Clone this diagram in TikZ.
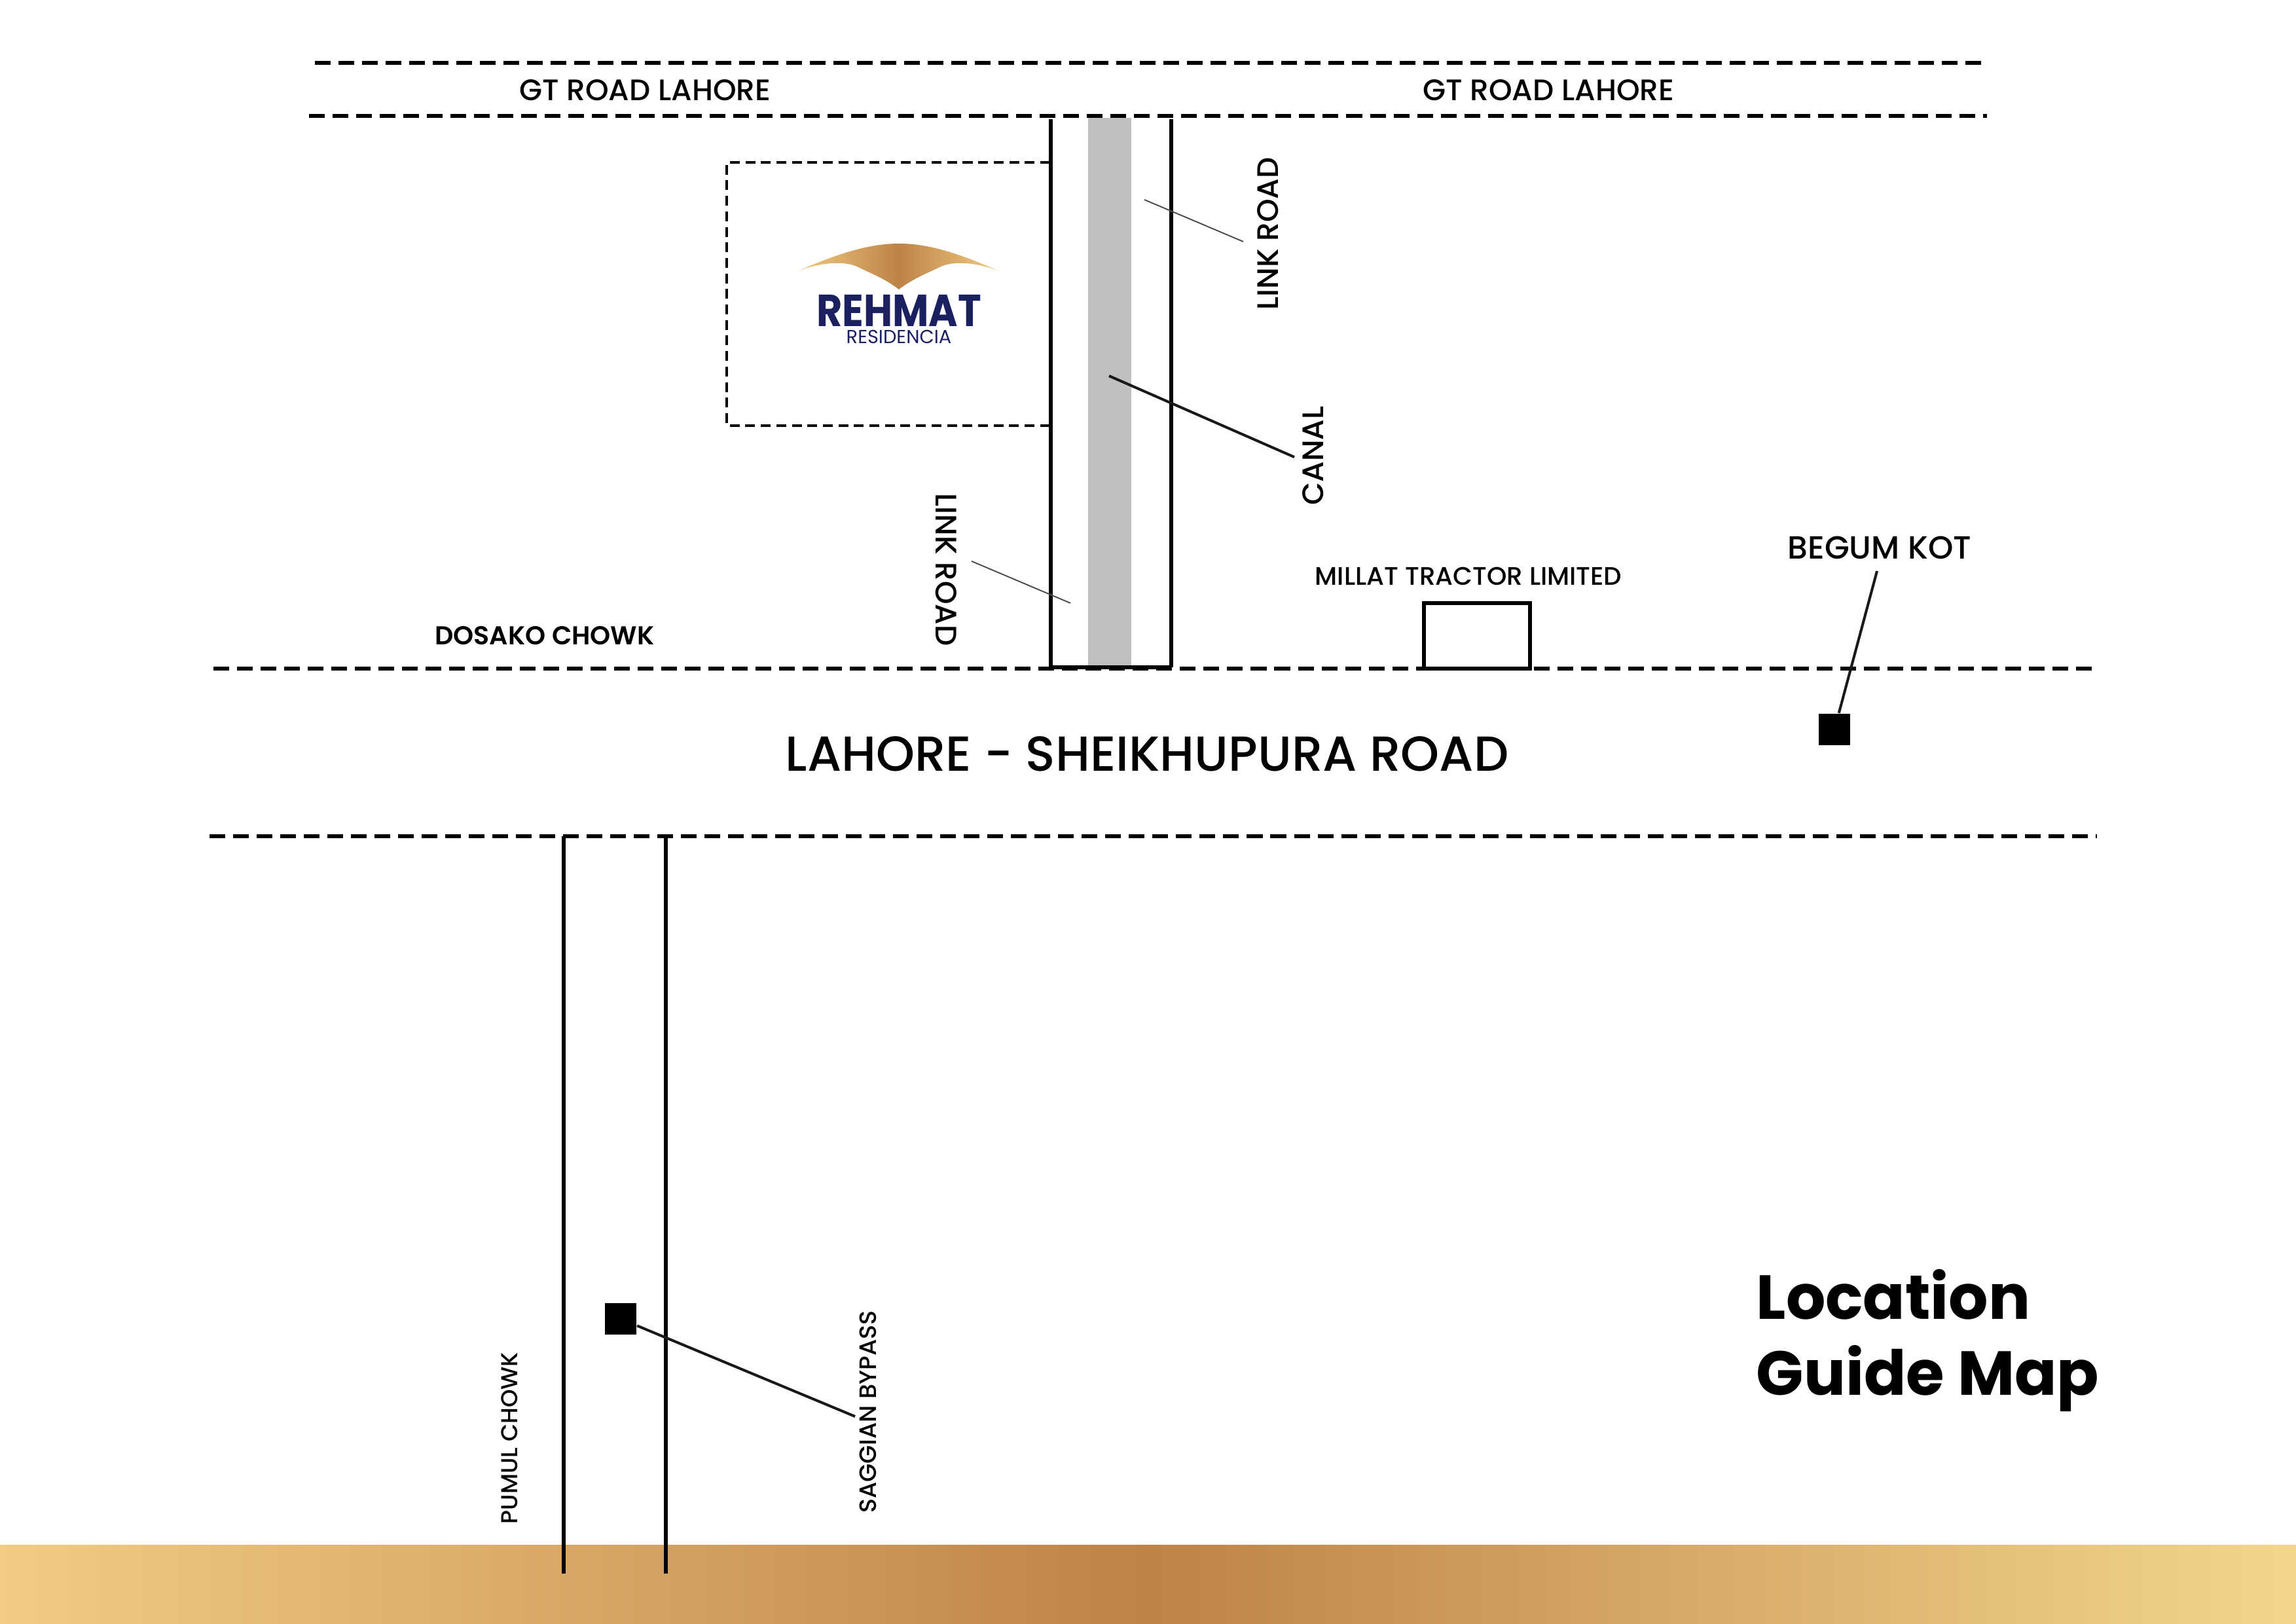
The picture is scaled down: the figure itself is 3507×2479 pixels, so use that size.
\documentclass[tikz,border=0pt]{standalone}
\usepackage{fontspec}
\setmainfont{Poppins}
\newfontfamily\medfont{Poppins Medium}
\newfontfamily\semifont{Poppins SemiBold}
\usepackage{xcolor}
\usetikzlibrary{positioning}
\definecolor{goldedge}{HTML}{F1CC82}
\definecolor{goldedgeb}{HTML}{F3D68B}
\definecolor{goldmid}{HTML}{BD8347}
\definecolor{logonavy}{HTML}{1B2060}
\definecolor{canalgrey}{HTML}{C0C0C0}

\begin{document}
\begin{tikzpicture}[
    x=0.01cm,
    y=-0.01cm,
    roadline/.style={line width=1.55pt, draw=black, dash pattern=on 6.83pt off 3.41pt},
    plotline/.style={line width=1pt, draw=black, dash pattern=on 4.27pt off 2.47pt},
    wall/.style={line width=1.55pt, draw=black},
    leader/.style={line width=1.15pt, draw=black!90},
    thinleader/.style={line width=0.55pt, draw=black!70},
    marker/.style={fill=black, minimum size=1.39cm/2.85, inner sep=0pt},
    label/.style={inner sep=0pt, font=\medfont\fontsize{12.9}{15}\selectfont},
    smalllabel/.style={inner sep=0pt, font=\medfont\fontsize{10}{12}\selectfont}
  ]
    \useasboundingbox (0,0) rectangle (3507,2479);
    \shade[left color=goldedge, right color=goldedgeb, middle color=goldmid]
      (0,2359) rectangle (3507,2479);

    \coordinate (gta) at (481,96);
    \coordinate (gtb) at (3030,96);
    \coordinate (gtc) at (472,177);
    \coordinate (gtd) at (3035,177);
    \coordinate (lsa) at (326,1021);
    \coordinate (lsb) at (3198,1021);
    \coordinate (lsc) at (320,1277);
    \coordinate (lsd) at (3203,1277);
    \draw[roadline] (gta) -- (gtb);
    \draw[roadline] (gtc) -- (gtd);
    \draw[roadline] (lsa) -- (lsb);
    \draw[roadline] (lsc) -- (lsd);

    \node[label] (gtleft) at (985,138) {GT ROAD LAHORE};
    \node[label] (gtright) at (2365,138) {GT ROAD LAHORE};
    \node[inner sep=0pt, font=\medfont\fontsize{21.35}{25}\selectfont] (lsroad) at (1752,1151) {LAHORE - SHEIKHUPURA ROAD};

    \fill[canalgrey] (1662,180) rectangle (1728,1020);
    \coordinate (canaltl) at (1605,182);
    \coordinate (canaltr) at (1789,182);
    \coordinate (canalbl) at (1605,1019);
    \coordinate (canalbr) at (1789,1019);
    \draw[wall] (canaltl) -- (canalbl);
    \draw[wall] (canaltr) -- (canalbr);
    \draw[wall] (canalbl) -- (canalbr);

    \coordinate (plota) at (1604,248);
    \coordinate (plotb) at (1110,248);
    \coordinate (plotc) at (1110,650);
    \coordinate (plotd) at (1604,650);
    \draw[plotline] (plota) -- (plotb) -- (plotc) -- (plotd);

    \shade[left color=goldedge, right color=goldedge, middle color=goldmid]
      (1218,414) .. controls (1285,385) and (1330,372) .. (1373,372)
      .. controls (1416,372) and (1461,385) .. (1526,414)
      .. controls (1490,400) and (1455,398) .. (1435,408)
      .. controls (1415,418) and (1395,425) .. (1373,442)
      .. controls (1351,425) and (1331,418) .. (1311,408)
      .. controls (1291,398) and (1256,400) .. (1218,414) -- cycle;
    \node[inner sep=0pt, text=logonavy, xscale=0.88, font=\fontsize{19.5}{22}\selectfont\bfseries] (rehmat) at (1373,474) {REHMAT};
    \node[inner sep=0pt, text=logonavy, font=\fontsize{8.2}{10}\selectfont] (residencia) at (1373,514) {RESIDENCIA};

    \node[label, rotate=90] (linkup) at (1937,357) {LINK ROAD};
    \node[label, rotate=-90] (linkdown) at (1445,870) {LINK ROAD};
    \node[label, rotate=90] (canal) at (2006,696) {CANAL};
    \coordinate (linkupend) at (1748,305);
    \coordinate (linkupstart) at (1899,369);
    \coordinate (linkdownend) at (1635,921);
    \coordinate (linkdownstart) at (1484,857);
    \coordinate (canalend) at (1694,574);
    \coordinate (canalstart) at (1977,698);
    \draw[thinleader] (linkupstart) -- (linkupend);
    \draw[thinleader] (linkdownstart) -- (linkdownend);
    \draw[leader] (canalstart) -- (canalend);

    \node[inner sep=0pt, font=\semifont\fontsize{11.25}{13}\selectfont] (dosako) at (832,971) {DOSAKO CHOWK};

    \node[inner sep=0pt, font=\medfont\fontsize{11}{13}\selectfont] (millat) at (2243,880) {MILLAT TRACTOR LIMITED};
    \coordinate (milla) at (2175,1021);
    \coordinate (millb) at (2175,921);
    \coordinate (millc) at (2337,921);
    \coordinate (milld) at (2337,1021);
    \draw[wall] (milla) -- (millb) -- (millc) -- (milld) -- cycle;

    \node[inner sep=0pt, font=\medfont\fontsize{13.9}{16}\selectfont] (begum) at (2871,836) {BEGUM KOT};
    \node[marker] (begumsq) at (2802,1114) {};
    \coordinate (begumstart) at (2867,872);
    \draw[leader] (begumstart) -- (begumsq);

    \coordinate (pumula) at (861,1277);
    \coordinate (pumulb) at (861,2403);
    \coordinate (pumulc) at (1017,1277);
    \coordinate (pumuld) at (1017,2403);
    \draw[wall] (pumula) -- (pumulb);
    \draw[wall] (pumulc) -- (pumuld);
    \node[smalllabel, rotate=90] (pumul) at (778,2196) {PUMUL CHOWK};
    \node[smalllabel, font=\medfont\fontsize{10.3}{12}\selectfont, rotate=90] (saggian) at (1326,2156) {SAGGIAN BYPASS};
    \node[marker] (saggiansq) at (948,2014) {};
    \coordinate (saggianstart) at (1306,2163);
    \draw[leader] (saggianstart) -- (saggiansq);

    \node[inner sep=0pt, anchor=west, font=\fontsize{27}{33}\selectfont\bfseries] (location) at (2682,1977) {Location};
    \node[inner sep=0pt, anchor=west, font=\fontsize{27}{33}\selectfont\bfseries] (guidemap) at (2682,2105) {Guide Map};
  \end{tikzpicture}
\end{document}
